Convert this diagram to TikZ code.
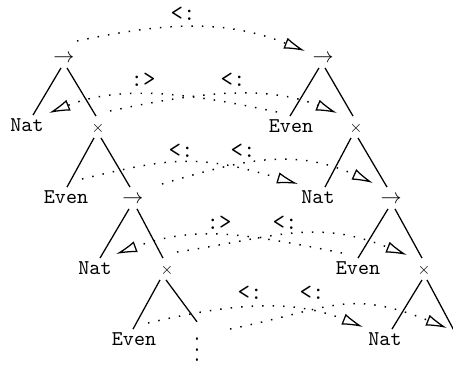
\documentclass[tikz,border=0pt]{standalone}
\usepackage{fontspec}
\usetikzlibrary{arrows.meta,calc}
\newcommand{\tcross}{\scalebox{0.78}{$\times$}}
\begin{document}
\begin{tikzpicture}[x=0.476pt,y=-0.476pt,
  tn/.style={inner sep=0pt, minimum height=10pt, text height=6pt, text depth=1pt, font=\ttfamily},
  rel/.style={inner sep=0pt, font=\fontsize{11.5}{13}\ttfamily},
  treeline/.style={line width=0.6pt},
  subarc/.style={line width=0.7pt, dash pattern=on 0.7pt off 4.3pt,
    -{Latex[open,length=10pt,width=5.5pt,line width=0.6pt]}}
]
\useasboundingbox (0,0) rectangle (453,365);

% left tree
\node[tn] (A0) at (64,57) {$\rightarrow$};
\node[tn] (A1) at (27,126) {Nat};
\node[tn] (A2) at (98,127) {\tcross};
\node[tn] (A3) at (66,198) {Even};
\node[tn] (A4) at (133,198) {$\rightarrow$};
\node[tn] (A5) at (95,269) {Nat};
\node[tn] (A6) at (167,269) {\tcross};
\node[tn] (A7) at (134,340) {Even};
\node[inner sep=0pt] (A8) at (197,342) {\scalebox{1}[1.25]{$\vdots$}};

% right tree
\node[tn] (B0) at (323,57) {$\rightarrow$};
\node[tn] (B1) at (291,127) {Even};
\node[tn] (B2) at (356,127) {\tcross};
\node[tn] (B3) at (318,198) {Nat};
\node[tn] (B4) at (391,198) {$\rightarrow$};
\node[tn] (B5) at (358,269) {Even};
\node[tn] (B6) at (424,269) {\tcross};
\node[tn] (B7) at (385,340) {Nat};
\coordinate (B8) at (458,338);

% tree edges
\draw[treeline] ($(A0.south)+(-3,0)$) -- ($(A1.north)+(6,0)$);
\draw[treeline] ($(A0.south)+(3,0)$) -- ($(A2.north)+(-2,0)$);
\draw[treeline] ($(A2.south)+(-4,0)$) -- ($(A3.north)+(1,0)$);
\draw[treeline] ($(A2.south)+(3,0)$) -- ($(A4.north)+(-3,0)$);
\draw[treeline] ($(A4.south)+(-4,0)$) -- ($(A5.north)+(5,0)$);
\draw[treeline] ($(A4.south)+(4,0)$) -- ($(A6.north)+(-4,0)$);
\draw[treeline] ($(A6.south)+(-7,0)$) -- ($(A7.north)+(-1,0)$);
\draw[treeline] ($(A6.south)+(-1,0)$) -- ($(A8.north)+(0,0)$);

\draw[treeline] ($(B0.south)+(-4,0)$) -- ($(B1.north)+(-1,0)$);
\draw[treeline] ($(B0.south)+(2,0)$) -- ($(B2.north)+(-3,0)$);
\draw[treeline] ($(B2.south)+(-5,0)$) -- ($(B3.north)+(7,0)$);
\draw[treeline] ($(B2.south)+(2,0)$) -- ($(B4.north)+(-4,0)$);
\draw[treeline] ($(B4.south)+(-3,0)$) -- ($(B5.north)+(0,0)$);
\draw[treeline] ($(B4.south)+(4,0)$) -- ($(B6.north)+(-2,0)$);
\draw[treeline] ($(B6.south)+(-2,0)$) -- ($(B7.north)+(7,0)$);
\draw[treeline] ($(B6.south)+(3,0)$) -- (B8);

% relation labels
\node[rel] (L0) at (183,14) {<:};
\node[rel] (L1a) at (143,80) {:>};
\node[rel] (L1b) at (233,80) {<:};
\node[rel] (L2a) at (181,151) {<:};
\node[rel] (L2b) at (243,151) {<:};
\node[rel] (L3a) at (219,223) {:>};
\node[rel] (L3b) at (285,223) {<:};
\node[rel] (L4a) at (250,293) {<:};
\node[rel] (L4b) at (312,293) {<:};

% arc end points
\coordinate (t0) at (77,41);   \coordinate (h0) at (305,51);
\coordinate (t1a) at (277,112); \coordinate (h1a) at (49,113);
\coordinate (t1b) at (110,111); \coordinate (h1b) at (337,113);
\coordinate (t2a) at (82,179);  \coordinate (h2a) at (298,184);
\coordinate (t2b) at (162,184); \coordinate (h2b) at (373,183);
\coordinate (t3a) at (342,253); \coordinate (h3a) at (116,254);
\coordinate (t3b) at (177,252); \coordinate (h3b) at (407,255);
\coordinate (t4a) at (148,323); \coordinate (h4a) at (363,327);
\coordinate (t4b) at (230,329); \coordinate (h4b) at (447,328);

\draw[subarc] (t0) .. controls (160,23.6) and (222,17.8) .. (h0);
\draw[subarc] (t1a) .. controls (201,96) and (125,82.6) .. (h1a);
\draw[subarc] (t1b) .. controls (186,95) and (261,82.6) .. (h1b);
\draw[subarc] (t2a) .. controls (172,157.4) and (197,153.7) .. (h2a);
\draw[subarc] (t2b) .. controls (242,160) and (293,147) .. (h2b);
\draw[subarc] (t3a) .. controls (242,233) and (195,225) .. (h3a);
\draw[subarc] (t3b) .. controls (277,237) and (314,218) .. (h3b);
\draw[subarc] (t4a) .. controls (224,305.5) and (287,296.6) .. (h4a);
\draw[subarc] (t4b) .. controls (330,309) and (347,288) .. (h4b);
\end{tikzpicture}
\end{document}
